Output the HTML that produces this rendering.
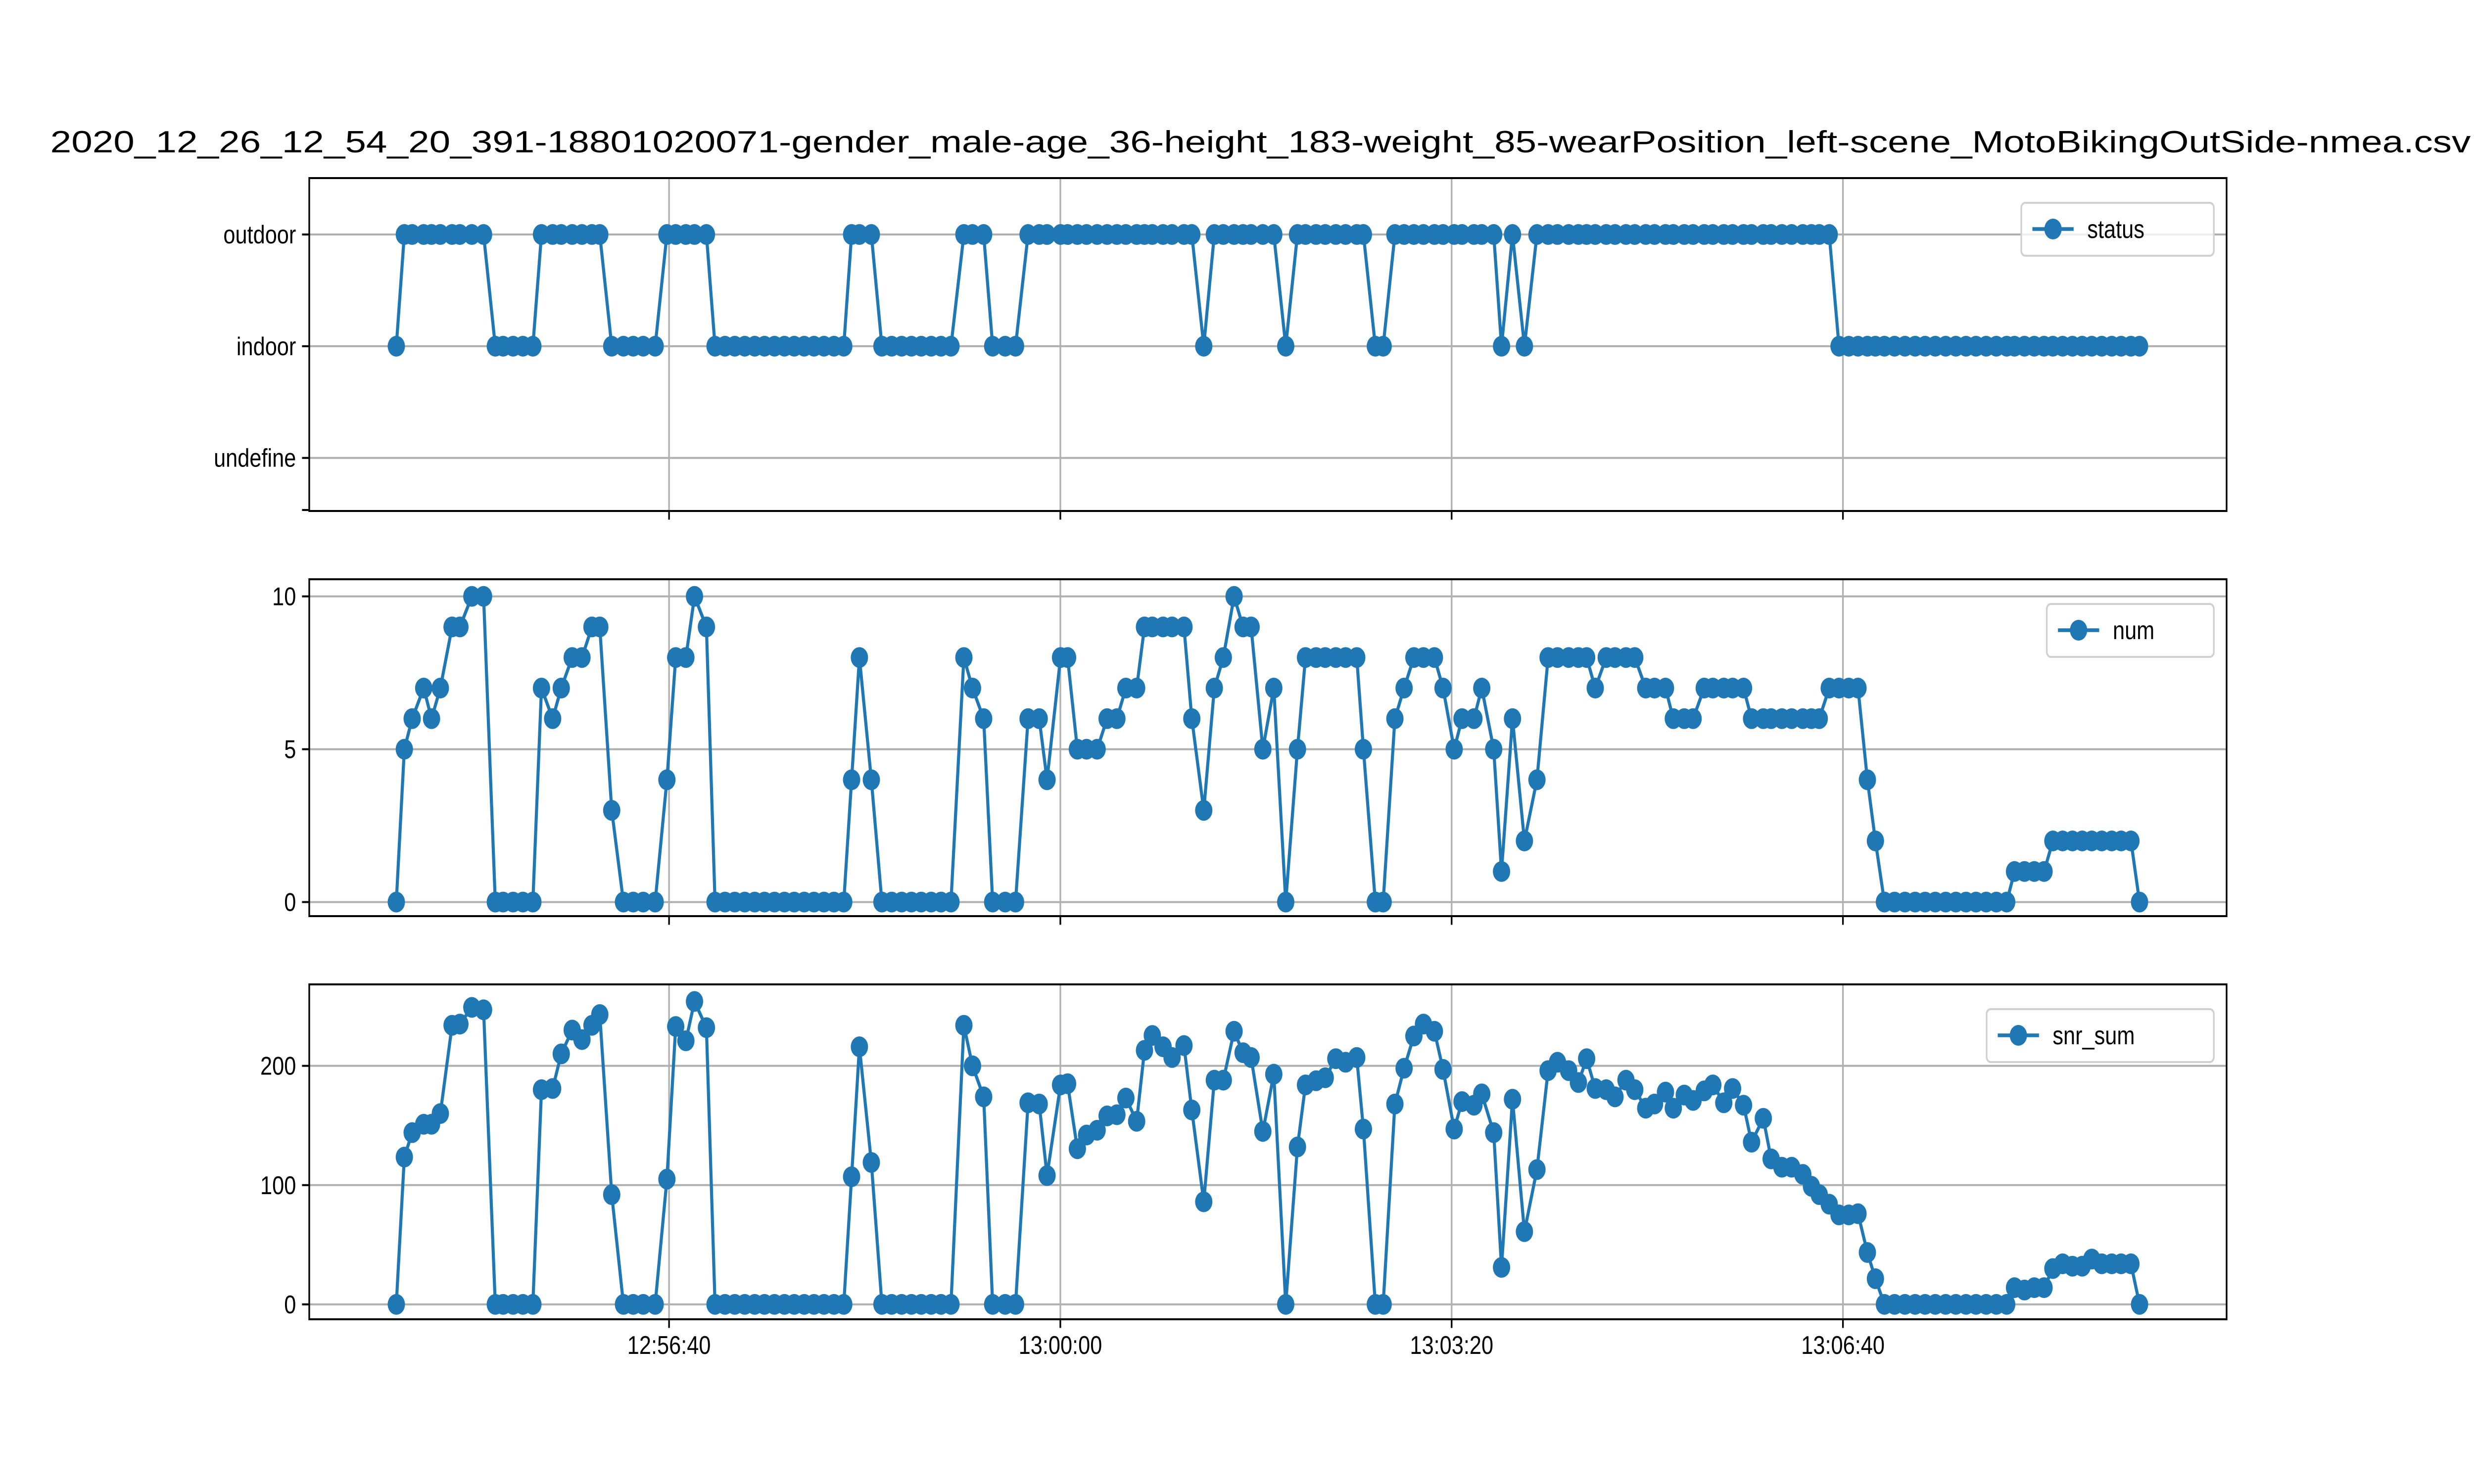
<!DOCTYPE html>
<html><head><meta charset="utf-8">
<style>
html,body{margin:0;padding:0;background:#fff;width:100%;height:100%;overflow:hidden;}
svg{display:block;position:fixed;left:0;top:0;width:100vw;height:100vh;}
text{font-family:"Liberation Sans","DejaVu Sans",sans-serif;fill:#000;}
</style></head>
<body>
<svg id="chart" viewBox="0 0 6000 3000" preserveAspectRatio="none" xmlns="http://www.w3.org/2000/svg">
<rect x="0" y="0" width="6000" height="3000" fill="#fff"/>
<text x="122" y="308" font-size="62" text-anchor="start" textLength="5870" lengthAdjust="spacingAndGlyphs">2020_12_26_12_54_20_391-18801020071-gender_male-age_36-height_183-weight_85-wearPosition_left-scene_MotoBikingOutSide-nmea.csv</text>
</svg>
<script>
// seconds relative to 12:56:40
const times=[-139.4,-135.3,-131.3,-125.4,-121.4,-116.9,-110.9,-106.9,-100.8,-94.8,
-88.8,-84.8,-79.7,-74.7,-69.6,-65.2,-59.5,-55.1,-49.5,-44.5,-39.4,-35.4,-29.3,-23.3,-18.3,-13.2,-7.1,
-1.1,3.4,8.6,13.0,19.1,
23.5,28.6,33.6,38.7,43.8,48.8,53.9,59.0,64.0,69.1,74.1,79.2,84.3,89.3,
93.3,97.3,103.4,108.8,113.8,118.9,123.9,128.9,134.0,139.0,144.1,150.7,155.1,160.8,165.4,171.8,177.1,
183.5,189.2,193.2,200.1,203.7,208.7,213.4,218.8,223.9,228.9,233.5,239.0,243.0,247.0,252.5,257.1,263.2,267.2,273.3,278.7,283.3,288.8,293.4,297.5,303.5,309.1,315.2,321.2,325.3,330.7,335.4,340.8,345.8,351.5,354.9,361.0,365.0,371.0,375.7,380.7,385.6,391.2,395.6,401.3,405.3,411.4,415.4,421.5,425.5,431.1,437.2,443.6,449.3,454.1,459.8,464.8,
469.0,473.4,479.0,483.5,489.1,493.6,499.2,503.7,509.3,513.3,518.9,523.4,529.1,533.5,539.1,543.6,549.2,553.3,559.3,563.3,568.8,573.8,579.5,583.9,587.9,593.0,598.0,603.0,607.7,612.5,616.6,
621.2,626.4,631.7,636.9,642.0,647.2,652.5,657.7,662.9,668.0,673.2,678.4,683.7,
687.7,692.8,697.8,702.8,
707.3,712.3,717.3,722.3,727.2,732.3,737.4,742.2,747.2,751.6];
const numVals=[0,5,6,7,6,7,9,9,10,10,
0,0,0,0,0,7,6,7,8,8,9,9,3,0,0,0,0,
4,8,8,10,9,
0,0,0,0,0,0,0,0,0,0,0,0,0,0,
4,8,4,0,0,0,0,0,0,0,0,8,7,6,0,0,0,
6,6,4,8,8,5,5,5,6,6,7,7,9,9,9,9,9,6,3,7,8,10,9,9,5,7,0,5,8,8,8,8,8,8,5,0,0,6,7,8,8,8,7,5,6,6,7,5,1,6,2,4,8,8,8,8,
8,7,8,8,8,8,7,7,7,6,6,6,7,7,7,7,7,6,6,6,6,6,6,6,6,7,7,7,7,4,2,
0,0,0,0,0,0,0,0,0,0,0,0,0,
1,1,1,1,
2,2,2,2,2,2,2,2,2,0];
const snrVals=[0,123.5,144,151,151,160,234,235,249,247,
0,0,0,0,0,180,181,210,230,222,234,243,92,0,0,0,0,
105,233,221,254,232,
0,0,0,0,0,0,0,0,0,0,0,0,0,0,
107,216,119,0,0,0,0,0,0,0,0,234,200,174,0,0,0,
169,168,108,184,185,130.5,142,146,158,159,173,153.5,213,225.5,216,207,217,163,86,188,188,229,211,207,145,193,0,132,184,187.5,190,206,203,207,147,0,0,168,198,225,235,229,197,147,170,167,176.5,144,31,172,61,113,196,203,196,186,
206,181,180,174,188,180,164.5,168,178,164.5,175.5,171,179,184,169,181,167,136,156,122,115,115,109,99,92,84,75,75,76,43.5,21.5,
0,0,0,0,0,0,0,0,0,0,0,0,0,
14,12,14,14,
30,34,32,32,38,34,34,34,34,0];
// 2 = outdoor, 1 = indoor, 0 = undefine
const statusVals=[1,2,2,2,2,2,2,2,2,2,
1,1,1,1,1,2,2,2,2,2,2,2,1,1,1,1,1,
2,2,2,2,2,
1,1,1,1,1,1,1,1,1,1,1,1,1,1,
2,2,2,1,1,1,1,1,1,1,1,2,2,2,1,1,1,
2,2,2,2,2,2,2,2,2,2,2,2,2,2,2,2,2,2,1,2,2,2,2,2,2,2,1,2,2,2,2,2,2,2,2,1,1,2,2,2,2,2,2,2,2,2,2,2,1,2,1,2,2,2,2,2,
2,2,2,2,2,2,2,2,2,2,2,2,2,2,2,2,2,2,2,2,2,2,2,2,2,2,1,1,1,1,1,
1,1,1,1,1,1,1,1,1,1,1,1,1,
1,1,1,1,
1,1,1,1,1,1,1,1,1,1];
const xTickVals=[0,200,400,600];
const xTickLabels=["12:56:40","13:00:00","13:03:20","13:06:40"];
const statusTickVals=[0,1,2];
const statusTickLabels=["undefine","indoor","outdoor"];
const numTickVals=[0,5,10];
const snrTickVals=[0,100,200];

const NS="http://www.w3.org/2000/svg";
const svg=document.getElementById('chart');
const C="#1f77b4";
const X0=750,X1=5400,T0=-183.9,T1=796.1;
function xScale(t){return X0+(t-T0)/(T1-T0)*(X1-X0);}
function mk(tag,attrs,parent){const e=document.createElementNS(NS,tag);for(const k in attrs)e.setAttribute(k,attrs[k]);(parent||svg).appendChild(e);return e;}

const panels=[
 {key:'status',top:360,bot:1033,lo:-0.475,hi:2.505,vals:statusVals,ticks:statusTickVals,labels:statusTickLabels,legend:{x:4902,y:410,w:467}},
 {key:'num',top:1171,bot:1852,lo:-0.46,hi:10.56,vals:numVals,ticks:numTickVals,labels:numTickVals.map(String),legend:{x:4964,y:1221,w:405}},
 {key:'snr_sum',top:1990,bot:2667,lo:-12.5,hi:268.3,vals:snrVals,ticks:snrTickVals,labels:snrTickVals.map(String),legend:{x:4818,y:2040,w:551}}
];

panels.forEach((p,pi)=>{
  const yScale=v=>p.bot-(v-p.lo)/(p.hi-p.lo)*(p.bot-p.top);
  const g=mk('g',{});
  
  
  xTickVals.forEach((tv,i)=>{
    const x=xScale(tv);
    const l=mk('line',{x1:x,x2:x,y1:p.top,y2:p.bot,stroke:'#b0b0b0','stroke-width':4},g);
    
    
    const tk=mk('line',{x1:x,x2:x,y1:p.bot,y2:p.bot+17.5,stroke:'#000','stroke-width':4},g);
    
    
    if(pi===2){
      const tl=mk('text',{x:x,y:p.bot+70,'font-size':52,'text-anchor':'middle'},g);
      tl.textContent=xTickLabels[i];
      
      
    }
  });
  p.ticks.forEach((tv,i)=>{
    const y=yScale(tv);
    const l=mk('line',{x1:X0,x2:X1,y1:y,y2:y,stroke:'#b0b0b0','stroke-width':4},g);
    
    
    const tk=mk('line',{x1:X0-17.5,x2:X0,y1:y,y2:y,stroke:'#000','stroke-width':4},g);
    
    
    const tl=mk('text',{x:X0-32,y:y+18,'font-size':52,'text-anchor':'end'},g);
    tl.textContent=p.labels[i];
    
    
  });
  if(pi===0){
    const tk=mk('line',{x1:X0-17.5,x2:X0,y1:p.bot-2,y2:p.bot-2,stroke:'#000','stroke-width':4},g);
    
    
  }
  const pts=times.map((t,i)=>xScale(t).toFixed(1)+','+yScale(p.vals[i]).toFixed(1)).join(' ');
  const pl=mk('polyline',{points:pts,fill:'none',stroke:C,'stroke-width':7.5,'stroke-linejoin':'round'},g);
  
  
  times.forEach((t,i)=>{
    const c=mk('ellipse',{cx:xScale(t),cy:yScale(p.vals[i]),rx:21,ry:21,fill:C},g);
    
    
  });
  const fr=mk('rect',{x:X0,y:p.top,width:X1-X0,height:p.bot-p.top,fill:'none',stroke:'#000','stroke-width':4},g);
  
  
  const L=p.legend;
  const lg=mk('g',{},g);
  
  
  const lb=mk('rect',{x:L.x,y:L.y,width:L.w,height:107,rx:10,fill:'#fff','fill-opacity':0.8,stroke:'#d0d0d0','stroke-width':4},lg);
  
  
  const cy=L.y+53;
  const ll=mk('line',{x1:L.x+27,x2:L.x+127,y1:cy,y2:cy,stroke:C,'stroke-width':7.5},lg);
  
  
  const lm=mk('ellipse',{cx:L.x+77,cy:cy,rx:21,ry:21,fill:C},lg);
  
  
  const lt=mk('text',{x:L.x+160,y:cy+18,'font-size':52},lg);
  lt.textContent=p.key;
  
  
});
</script>
</body></html>
